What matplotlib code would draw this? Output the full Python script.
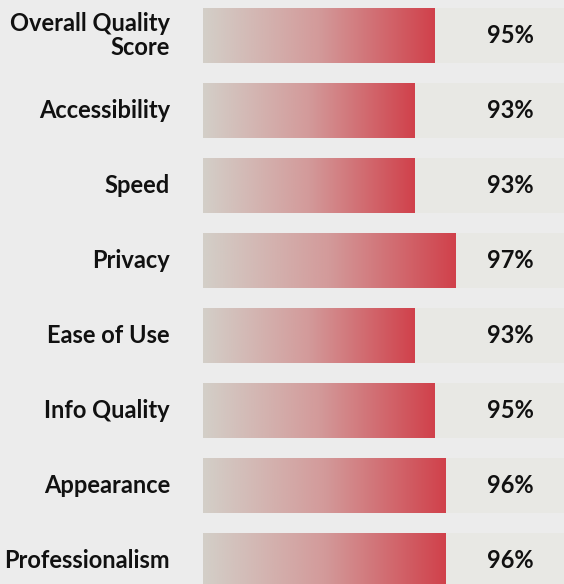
import numpy as np
import matplotlib.pyplot as plt
from matplotlib.colors import LinearSegmentedColormap

categories = ["Overall Quality\nScore", "Accessibility", "Speed", "Privacy",
              "Ease of Use", "Info Quality", "Appearance", "Professionalism"]
scores = [95, 93, 93, 97, 93, 95, 96, 96]

BG = "#ececec"
TRACK = "#e8e8e4"
BASE = 72.4          # left edge of the bar scale
XMAX = 107.6
BAR_H = 0.73

plt.rcParams['font.family'] = ['Lato', 'DejaVu Sans']

grad = LinearSegmentedColormap.from_list("warm", ["#d3cfc8", "#d39a9a", "#d0414b"])

fig = plt.figure(figsize=(5.64, 5.84), dpi=100, facecolor=BG)
ax = fig.add_axes([203 / 564, 0, 1 - 203 / 564, 1])
ax.set_facecolor(BG)

ramp = np.linspace(0, 1, 256).reshape(1, -1)
for i, (cat, val) in enumerate(zip(categories, scores)):
    # full-width track behind the bar
    ax.barh(i, XMAX + 5 - BASE, left=BASE, height=BAR_H, color=TRACK, zorder=1)
    ax.imshow(ramp, cmap=grad, aspect="auto", zorder=2,
              extent=(BASE, val, i + BAR_H / 2, i - BAR_H / 2))
    ax.text(XMAX - 5.25, i, f"{val}%", ha="center", va="center",
            fontsize=17, fontweight="bold", color="#111111", zorder=3)
    ax.text(-33 / 361, i, cat, transform=ax.get_yaxis_transform(),
            ha="right", va="center", fontsize=17, fontweight="bold",
            color="#111111", linespacing=1.05)

ax.set_xlim(BASE, XMAX)
ax.set_ylim((584 - 35.5) / 75, -35.5 / 75)
ax.axis("off")

fig.savefig("out.png", dpi=100, facecolor=BG)
